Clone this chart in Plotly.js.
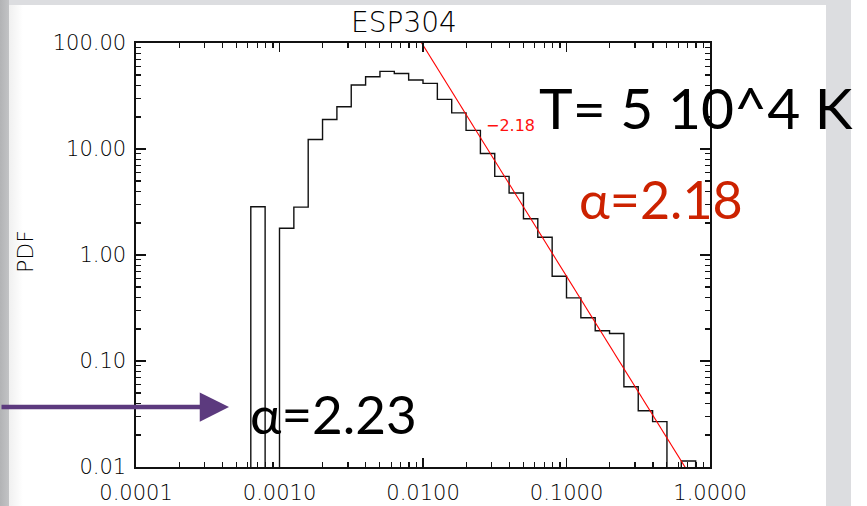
<!DOCTYPE html>
<html>
<head>
<meta charset="utf-8">
<script src="https://cdn.plot.ly/plotly-3.0.1.min.js"></script>
<style>
  html, body { margin: 0; padding: 0; width: 867px; height: 506px; overflow: hidden; background: #ffffff; }
  #bg { position: absolute; left: 0; top: 0; width: 851px; height: 506px; background: #dcdde0; }
  #lstrip { position: absolute; left: 0; top: 0; width: 9px; height: 506px; background: linear-gradient(to right, #b2b3b5, #c2c3c5); }
  #panel { position: absolute; left: 9px; top: 5px; width: 817px; height: 501px;
           background: linear-gradient(to right, #f0f0f0 0px, #ffffff 14px, #ffffff 100%); }
  #chart { position: absolute; left: 0; top: 0; width: 867px; height: 506px; }
</style>
</head>
<body>
<div id="bg"></div>
<div id="lstrip"></div>
<div id="panel"></div>
<div id="chart"></div>
<script>
// ---- Data ----
// Histogram bin edges (log-spaced, 0.1 dex)
const binEdges = [0.000631, 0.000794, 0.001, 0.001259, 0.001585, 0.001995, 0.002512, 0.003162,
  0.003981, 0.005012, 0.00631, 0.007943, 0.01, 0.01259, 0.01585, 0.01995, 0.02512, 0.03162,
  0.03981, 0.05012, 0.0631, 0.07943, 0.1, 0.1259, 0.1585, 0.1995, 0.2512, 0.3162, 0.3981,
  0.5012, 0.631, 0.7943, 1.0];
// PDF value in each bin (0 = empty bin)
const pdfValues = [2.85, 0, 1.79, 2.83, 12.3, 19.0, 25.0, 40.1, 48.0, 54.0, 51.6, 44.7,
  41.6, 29.4, 21.9, 15.0, 9.06, 5.52, 3.84, 2.20, 1.47, 0.63, 0.394, 0.256, 0.193, 0.182,
  0.0571, 0.0339, 0.0268, 0, 0.0114, 0];
// Power-law fit: log10(PDF) = fitLogIntercept + fitSlope * log10(x)
const fitSlope = -2.18;
const fitLogIntercept = -2.38;
const fitXRange = [0.005, 1.0];
// Tick labels
const xTickVals = [0.0001, 0.001, 0.01, 0.1, 1.0];
const xTickText = ['0.0001', '0.0010', '0.0100', '0.1000', '1.0000'];
const yTickVals = [0.01, 0.1, 1, 10, 100];
const yTickText = ['0.01', '0.10', '1.00', '10.00', '100.00'];
const titleText = 'ESP304';
const yLabel = 'PDF';
const fitLabel = '\u22122.18';
const tempText = 'T= 5 10^4 K';
const alphaHigh = '\u03b1=2.18';
const alphaLow = '\u03b1=2.23';

// ---- Build step path of histogram ----
const FLOOR = 1e-6; // empty bins drop below the axis
const stepX = [binEdges[0]], stepY = [FLOOR];
for (let i = 0; i < pdfValues.length; i++) {
  const v = pdfValues[i] > 0 ? pdfValues[i] : FLOOR;
  stepX.push(binEdges[i], binEdges[i + 1]);
  stepY.push(v, v);
}
stepX.push(binEdges[binEdges.length - 1]); stepY.push(FLOOR);

const fitX = [fitXRange[0], fitXRange[1]];
const fitY = fitX.map(x => Math.pow(10, fitLogIntercept + fitSlope * Math.log10(x)));

function minorVals(decades) {
  const out = [];
  decades.forEach(d => { for (let m = 2; m <= 9; m++) out.push(d * m); });
  return out;
}

// plot area in pixels
const L = 136, R = 710, T = 43, B = 467;
const px = x => (x - L) / (R - L);
const py = y => (B - y) / (B - T);

const thinFont = 'DejaVu Sans';
const tickFont = { family: thinFont, size: 21, color: '#000', weight: 200 };

const traces = [
  { x: stepX, y: stepY, type: 'scatter', mode: 'lines',
    line: { color: '#111', width: 1.4 }, hoverinfo: 'skip' },
  { x: fitX, y: fitY, type: 'scatter', mode: 'lines',
    line: { color: '#ff0000', width: 1.1 }, hoverinfo: 'skip' }
];

const axisCommon = {
  type: 'log', showgrid: false, zeroline: false, showline: true,
  linecolor: '#111', linewidth: 1.6, mirror: 'allticks',
  ticks: 'inside', tickcolor: '#111', tickwidth: 1.3, tickfont: tickFont,
  tickmode: 'array'
};

const layout = {
  width: 867, height: 506,
  margin: { l: L, r: 867 - R, t: T, b: 506 - B },
  paper_bgcolor: 'rgba(0,0,0,0)', plot_bgcolor: 'rgba(0,0,0,0)',
  showlegend: false,
  title: { text: titleText, x: 404 / 867, xref: 'container', xanchor: 'center',
           y: 1 - 22 / 506, yref: 'container', yanchor: 'middle',
           font: { family: thinFont, size: 28, color: '#000', weight: 200 } },
  xaxis: Object.assign({}, axisCommon, {
    range: [-4, 0], tickvals: xTickVals, ticktext: xTickText, ticklen: 9,
    ticklabelstandoff: 6,
    minor: { tickmode: 'array', tickvals: minorVals([0.0001, 0.001, 0.01, 0.1]),
             ticks: 'inside', ticklen: 5, tickcolor: '#111', tickwidth: 1.2 }
  }),
  yaxis: Object.assign({}, axisCommon, {
    range: [-2, 2], tickvals: yTickVals, ticktext: yTickText, ticklen: 10,
    ticklabelstandoff: 4,
    minor: { tickmode: 'array', tickvals: minorVals([0.01, 0.1, 1, 10]),
             ticks: 'inside', ticklen: 5, tickcolor: '#111', tickwidth: 1.2 }
  }),
  annotations: [
    { text: yLabel, textangle: -90, xref: 'paper', yref: 'paper',
      x: px(25), y: py(252), xanchor: 'center', yanchor: 'middle', showarrow: false,
      font: { family: thinFont, size: 22, color: '#000', weight: 200 } },
    { text: fitLabel, xref: 'paper', yref: 'paper', x: px(484), y: py(125.5),
      xanchor: 'left', yanchor: 'middle', showarrow: false,
      font: { family: thinFont, size: 16, color: '#ff1010' } },
    { text: tempText, xref: 'paper', yref: 'paper', x: px(537), y: py(107),
      xanchor: 'left', yanchor: 'middle', showarrow: false,
      font: { family: 'Lato', size: 57, color: '#000' } },
    { text: alphaHigh, xref: 'paper', yref: 'paper', x: px(577), y: py(199),
      xanchor: 'left', yanchor: 'middle', showarrow: false,
      font: { family: 'Lato', size: 52, color: '#cc2200' } },
    { text: alphaLow, xref: 'paper', yref: 'paper', x: px(248), y: py(413),
      xanchor: 'left', yanchor: 'middle', showarrow: false,
      font: { family: 'Lato', size: 53, color: '#000' } },
    { text: '', xref: 'paper', yref: 'paper', x: px(229), y: py(407),
      showarrow: true, ax: -232, ay: 0, arrowhead: 2, arrowsize: 1.3,
      arrowwidth: 4.5, arrowcolor: '#5c3a7e', standoff: 0 }
  ]
};

Plotly.newPlot('chart', traces, layout, { staticPlot: true, displayModeBar: false });
</script>
</body>
</html>
